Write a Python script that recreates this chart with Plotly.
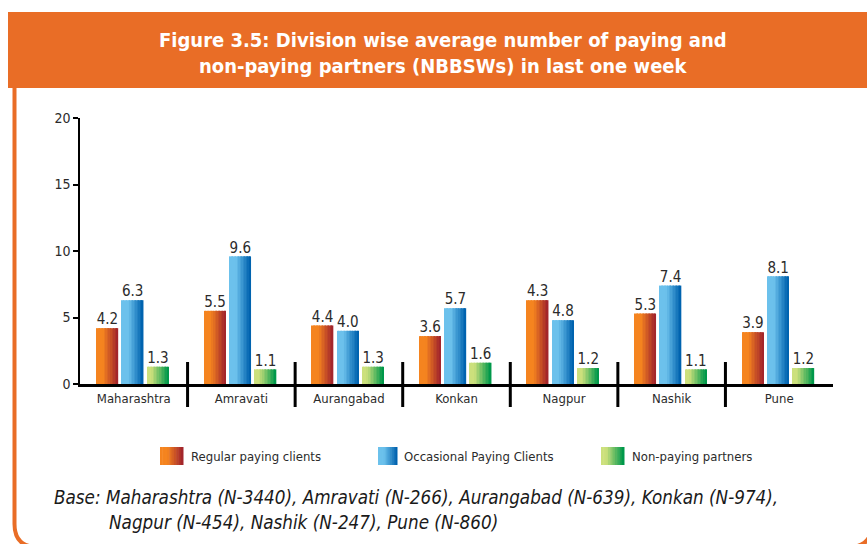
import plotly.graph_objects as go

# ---------------- data ----------------
divisions = ["Maharashtra", "Amravati", "Aurangabad", "Konkan", "Nagpur", "Nashik", "Pune"]
# bar heights as drawn in the reference
regular_clients = [4.2, 5.5, 4.4, 3.6, 6.3, 5.3, 3.9]
occasional_clients = [6.3, 9.6, 4.0, 5.7, 4.8, 7.4, 8.1]
nonpaying_partners = [1.3, 1.1, 1.3, 1.6, 1.2, 1.1, 1.2]
# value labels as printed in the reference
regular_labels = ["4.2", "5.5", "4.4", "3.6", "4.3", "5.3", "3.9"]
occasional_labels = ["6.3", "9.6", "4.0", "5.7", "4.8", "7.4", "8.1"]
nonpaying_labels = ["1.3", "1.1", "1.3", "1.6", "1.2", "1.1", "1.2"]
series_names = ["Regular paying clients", "Occasional Paying Clients", "Non-paying partners"]
y_ticks = [0, 5, 10, 15, 20]

title_lines = ["Figure 3.5: Division wise average number of paying and",
               "non-paying partners (NBBSWs) in last one week"]
base_lines = ["Base: Maharashtra (N-3440), Amravati (N-266), Aurangabad (N-639), Konkan (N-974),",
              "Nagpur (N-454), Nashik (N-247), Pune (N-860)"]

# ---------------- styling ----------------
W, H = 867, 544
ML, MR, MT, MB = 80, 34, 118, 160
PW, PH = W - ML - MR, H - MT - MB
ORANGE = "#E96D26"
FONT = "DejaVu Sans Condensed, Liberation Sans Narrow, Arial Narrow, sans-serif"


def fx(p):
    return (p - ML) / PW


def fy(p):
    return (H - MB - p) / PH


gradients = [
    ("#F5841F", "#A3262B", 0.30),
    ("#6CC1EC", "#0063AF", 0.30),
    ("#CCE07C", "#00984A", 0.20),
]
offsets = [-0.345, -0.11, 0.125]
bar_w = 0.20
N = 14


def hex2rgb(h):
    h = h.lstrip("#")
    return [int(h[i:i + 2], 16) for i in (0, 2, 4)]


def lerp(c0, c1, t):
    a, b = hex2rgb(c0), hex2rgb(c1)
    return "rgb(%d,%d,%d)" % tuple(round(a[i] + (b[i] - a[i]) * t) for i in range(3))


fig = go.Figure()
xs = list(range(len(divisions)))
all_vals = [regular_clients, occasional_clients, nonpaying_partners]
all_labels = [regular_labels, occasional_labels, nonpaying_labels]

for s, (vals, labels) in enumerate(zip(all_vals, all_labels)):
    c0, c1, start = gradients[s]
    sw = bar_w / N
    for k in range(N):
        t = k / (N - 1)
        tt = max(0.0, (t - start) / (1 - start))
        fig.add_trace(go.Bar(
            x=xs, y=vals,
            offset=offsets[s] + k * sw,
            width=sw * (1.25 if k < N - 1 else 1.0),
            marker=dict(color=lerp(c0, c1, tt), line=dict(width=0)),
            showlegend=False, hoverinfo="skip",
            name=series_names[s],
        ))
    fig.add_trace(go.Scatter(
        x=[x + offsets[s] + bar_w / 2 for x in xs], y=vals,
        mode="text", text=labels, textposition="top center",
        textfont=dict(family=FONT, size=15, color="#2B2B2B"),
        showlegend=False, hoverinfo="skip", cliponaxis=False,
    ))

shapes = []
# header band
shapes.append(dict(type="rect", xref="paper", yref="paper",
                   x0=fx(8), x1=fx(W + 10), y0=fy(88), y1=fy(12),
                   fillcolor=ORANGE, line=dict(width=0), layer="below"))
# frame (mostly outside the visible page, only its corners show)
path = ("M %f,%f L %f,%f Q %f,%f %f,%f L %f,%f Q %f,%f %f,%f L %f,%f" % (
    fx(14.5), fy(88), fx(14.5), fy(524), fx(14.5), fy(547), fx(37.5), fy(547),
    fx(849), fy(547), fx(872), fy(547), fx(872), fy(524), fx(872), fy(88)))
shapes.append(dict(type="path", xref="paper", yref="paper", path=path,
                   line=dict(color=ORANGE, width=4), layer="below"))
# group separators
for i in range(len(divisions) - 1):
    shapes.append(dict(type="line", xref="x", yref="paper",
                       x0=i + 0.5, x1=i + 0.5, y0=fy(362), y1=fy(407),
                       line=dict(color="black", width=3)))

# legend swatches
legend_pos = [(160, 183, 189), (378, 397, 402), (601, 624, 630)]
for s, (lx0, lx1, tx) in enumerate(legend_pos):
    c0, c1, start = gradients[s]
    n = 10
    sw = (lx1 - lx0) / n
    for k in range(n):
        t = k / (n - 1)
        tt = max(0.0, (t - start) / (1 - start))
        shapes.append(dict(type="rect", xref="paper", yref="paper",
                           x0=fx(lx0 + k * sw), x1=fx(lx0 + (k + 1) * sw + 0.5),
                           y0=fy(465), y1=fy(447),
                           fillcolor=lerp(c0, c1, tt), line=dict(width=0)))

annotations = []
for s, (lx0, lx1, tx) in enumerate(legend_pos):
    annotations.append(dict(xref="paper", yref="paper", x=fx(tx), y=fy(456),
                            text=series_names[s], showarrow=False,
                            xanchor="left", yanchor="middle",
                            font=dict(family=FONT, size=13, color="#2B2B2B")))
for i, (line, yc) in enumerate(zip(title_lines, [40, 66])):
    annotations.append(dict(xref="paper", yref="paper", x=fx(443), y=fy(yc),
                            text="<b>%s</b>" % line, showarrow=False,
                            xanchor="center", yanchor="middle",
                            font=dict(family=FONT, size=20, color="white")))
for line, xl, yc in zip(base_lines, [52, 107], [497, 522]):
    annotations.append(dict(xref="paper", yref="paper", x=fx(xl), y=fy(yc),
                            text="<i>%s</i>" % line, showarrow=False,
                            xanchor="left", yanchor="middle",
                            font=dict(family=FONT, size=18.7, color="#1A1A1A")))

fig.update_layout(
    width=W, height=H,
    margin=dict(l=ML, r=MR, t=MT, b=MB),
    paper_bgcolor="white", plot_bgcolor="white",
    barmode="overlay", showlegend=False,
    shapes=shapes, annotations=annotations,
    xaxis=dict(range=[-0.5, len(divisions) - 0.5], tickvals=xs, ticktext=divisions,
               showgrid=False, zeroline=False, showline=True, linecolor="black",
               linewidth=3, ticks="", tickfont=dict(family=FONT, size=13, color="#2B2B2B"),
               fixedrange=True),
    yaxis=dict(range=[0, 20], tickvals=y_ticks, showgrid=False, zeroline=False,
               showline=True, linecolor="black", linewidth=1.5, ticks="outside",
               ticklen=5, tickwidth=1.5, tickcolor="black",
               tickfont=dict(family=FONT, size=14, color="#2B2B2B"), fixedrange=True),
)

fig.write_html("out.html", config={"displayModeBar": False},
               post_script="document.body.style.margin='0';")
